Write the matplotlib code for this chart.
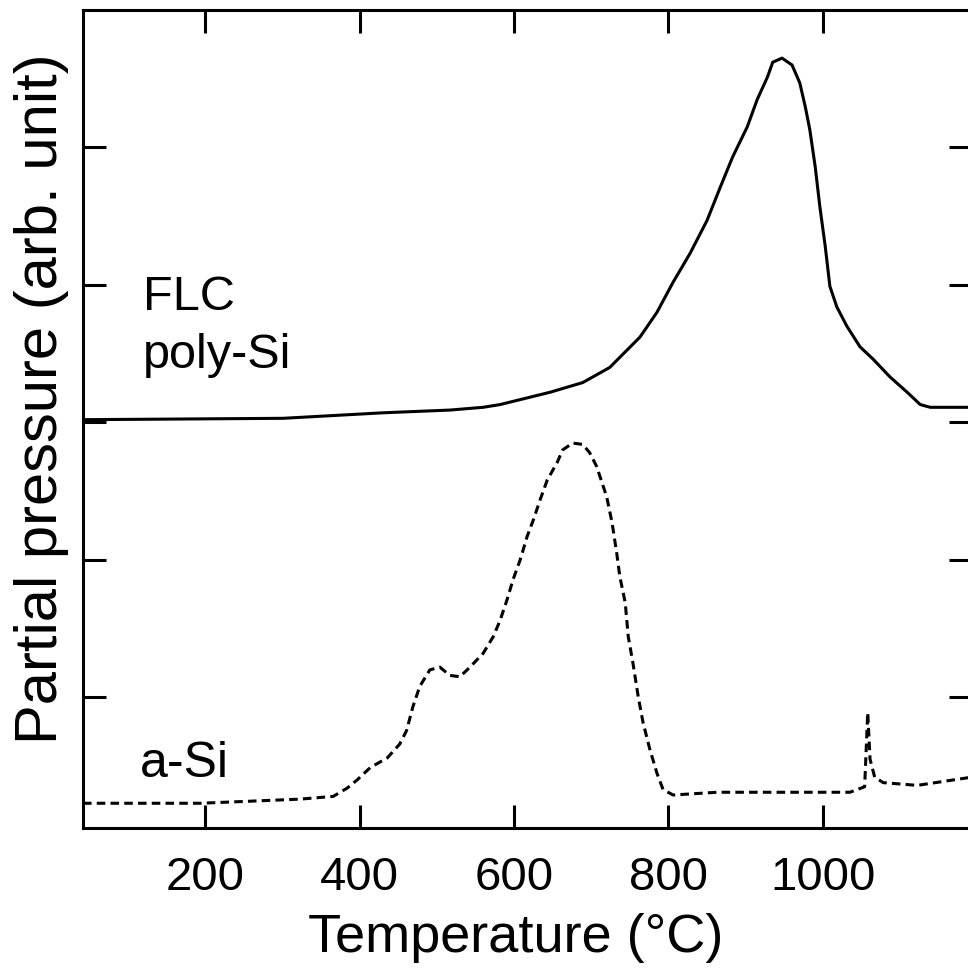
"""Thermal desorption curves: FLC poly-Si vs a-Si partial pressure against temperature."""

import matplotlib
matplotlib.use("Agg")
import matplotlib.pyplot as plt

plt.rcParams["font.family"] = ["Liberation Sans", "DejaVu Sans"]

# FLC poly-Si (solid), offset upward by 3 units
poly_t = [42, 301, 430, 517, 560, 582, 647, 689, 724, 763, 785, 806, 828, 850,
          867, 883, 902, 915, 928, 935, 947, 960, 970, 977, 983, 990, 996, 1003,
          1009, 1018, 1031, 1048, 1065, 1087, 1109, 1126, 1139, 1193]
poly_p = [3.02, 3.03, 3.07, 3.09, 3.11, 3.13, 3.22, 3.29, 3.40, 3.62, 3.80, 4.02,
          4.23, 4.47, 4.71, 4.93, 5.15, 5.35, 5.51, 5.62, 5.65, 5.60, 5.47, 5.30,
          5.13, 4.86, 4.57, 4.28, 3.99, 3.84, 3.70, 3.55, 3.46, 3.33, 3.22, 3.13,
          3.11, 3.11]

# a-Si (dashed)
asi_t = [42, 194, 323, 366, 384, 397, 414, 436, 452, 461, 469, 478, 491, 504,
         517, 530, 543, 560, 573, 582, 591, 599, 608, 617, 625, 634, 643, 656,
         663, 676, 689, 698, 707, 720, 727, 733, 737, 744, 748, 754, 761, 767,
         776, 785, 793, 806, 863, 948, 1035, 1054, 1058, 1061, 1067, 1078, 1122,
         1193]
asi_p = [0.23, 0.23, 0.26, 0.28, 0.34, 0.40, 0.49, 0.56, 0.66, 0.76, 0.93, 1.08,
         1.20, 1.22, 1.16, 1.15, 1.22, 1.32, 1.44, 1.56, 1.71, 1.86, 2.00, 2.17,
         2.29, 2.44, 2.58, 2.71, 2.80, 2.85, 2.84, 2.78, 2.68, 2.46, 2.27, 2.05,
         1.88, 1.69, 1.44, 1.25, 1.00, 0.82, 0.62, 0.45, 0.33, 0.29, 0.31, 0.31,
         0.31, 0.35, 0.89, 0.55, 0.42, 0.38, 0.36, 0.42]

xticks = [200, 400, 600, 800, 1000]
yticks = [1, 2, 3, 4, 5]


def main():
    fig = plt.figure(figsize=(9.68, 9.74), dpi=100)
    ax = fig.add_axes([83 / 968, 146 / 974, 889 / 968, 818 / 974])

    ax.plot(poly_t, poly_p, color="black", lw=2.2)
    ax.plot(asi_t, asi_p, color="black", lw=2.2, linestyle=(0, (2.8, 1.7)))

    ax.set_xlim(42, 1193)
    ax.set_ylim(0.05, 6.0)
    ax.set_xticks(xticks)
    ax.set_yticks(yticks)
    ax.set_yticklabels([])
    ax.tick_params(direction="in", length=16.5, width=2.2, top=True, right=True,
                   labelsize=34, pad=20)
    for s in ax.spines.values():
        s.set_linewidth(2.2)

    ax.set_xlabel("Temperature (\u00b0C)", fontsize=39)
    ax.xaxis.set_label_coords(0.487, -0.104)
    ax.set_ylabel("Partial pressure (arb. unit)", fontsize=43)
    ax.yaxis.set_label_coords(-0.016, 0.525)

    ax.text(120, 3.818, "FLC", fontsize=35, ha="left", va="baseline")
    ax.text(120, 3.396, "poly-Si", fontsize=35, ha="left", va="baseline")
    ax.text(116, 0.422, "a-Si", fontsize=36, ha="left", va="baseline")

    fig.savefig("out.png", dpi=100)


if __name__ == "__main__":
    main()
